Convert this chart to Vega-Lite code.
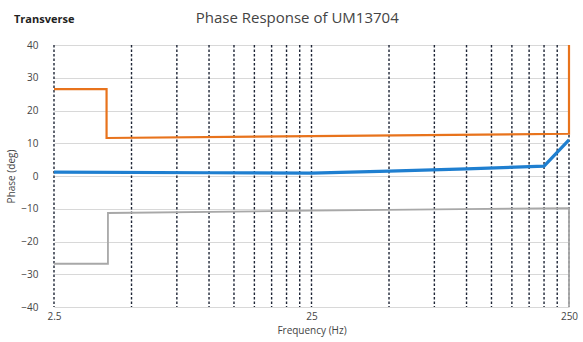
{
  "$schema": "https://vega.github.io/schema/vega-lite/v6.json",
  "width": 515,
  "height": 262,
  "autosize": {"type": "none"},
  "padding": {"left": 54, "top": 45, "right": 14, "bottom": 35},
  "background": "white",
  "config": {
    "view": {"stroke": null},
    "font": "Open Sans",
    "axisY": {
      "values": [-40, -30, -20, -10, 0, 10, 20, 30, 40],
      "grid": true,
      "gridColor": "#d8d8d8",
      "gridWidth": 1,
      "domain": false,
      "ticks": false,
      "labelOverlap": false,
      "labelFontSize": 10,
      "labelColor": "#444444",
      "labelPadding": 16,
      "titleFontSize": 10,
      "titleFontWeight": "normal",
      "titleColor": "#444444",
      "titlePadding": 4
    }
  },
  "datasets": {
    "grid": [
      {"f": 2.5}, {"f": 5}, {"f": 7.5}, {"f": 10}, {"f": 12.5}, {"f": 15}, {"f": 17.5}, {"f": 20}, {"f": 22.5}, {"f": 25},
      {"f": 50}, {"f": 75}, {"f": 100}, {"f": 125}, {"f": 150}, {"f": 175}, {"f": 200}, {"f": 225}, {"f": 250}
    ],
    "series": [
      {"series": "upper", "o": 1, "f": 2.5, "phase": 26.5},
      {"series": "upper", "o": 2, "f": 4, "phase": 26.5},
      {"series": "upper", "o": 3, "f": 4, "phase": 11.6},
      {"series": "upper", "o": 4, "f": 25, "phase": 12.2},
      {"series": "upper", "o": 5, "f": 250, "phase": 12.9},
      {"series": "upper", "o": 6, "f": 250, "phase": 40},
      {"series": "lower", "o": 1, "f": 2.5, "phase": -26.8},
      {"series": "lower", "o": 2, "f": 4.05, "phase": -26.8},
      {"series": "lower", "o": 3, "f": 4.05, "phase": -11.3},
      {"series": "lower", "o": 4, "f": 25, "phase": -10.6},
      {"series": "lower", "o": 5, "f": 250, "phase": -9.8},
      {"series": "lower", "o": 6, "f": 250, "phase": -40},
      {"series": "phase", "o": 1, "f": 2.5, "phase": 1.2},
      {"series": "phase", "o": 2, "f": 10, "phase": 1.0},
      {"series": "phase", "o": 3, "f": 25, "phase": 0.9},
      {"series": "phase", "o": 4, "f": 50, "phase": 1.5},
      {"series": "phase", "o": 5, "f": 100, "phase": 2.2},
      {"series": "phase", "o": 6, "f": 200, "phase": 3.0},
      {"series": "phase", "o": 7, "f": 250, "phase": 11}
    ],
    "labels": [
      {"t": "Transverse", "kind": "side", "f": 2.5, "phase": 40},
      {"t": "Phase Response of UM13704", "kind": "title", "f": 22, "phase": 40}
    ]
  },
  "layer": [
    {
      "data": {"name": "grid"},
      "mark": {"type": "rule", "color": "#1e2536", "strokeWidth": 1.4, "strokeDash": [2.5, 2]},
      "encoding": {
        "x": {
          "field": "f",
          "type": "quantitative",
          "scale": {"type": "log", "domain": [2.5, 250], "nice": false},
          "axis": {
            "values": [2.5, 25, 250],
            "grid": false,
            "domain": false,
            "ticks": false,
            "labelFontSize": 10,
            "labelColor": "#444444",
            "labelPadding": 4,
            "labelFlush": false,
            "labelExpr": "datum.value == 2.5 ? '2.5' : format(datum.value, 'd')",
            "title": "Frequency (Hz)",
            "titleFontSize": 10,
            "titleFontWeight": "normal",
            "titleColor": "#444444",
            "titlePadding": 4
          }
        }
      }
    },
    {
      "data": {"name": "series"},
      "transform": [{"filter": "datum.series == 'lower'"}],
      "mark": {"type": "line", "color": "#a8a8a8", "strokeWidth": 1.8},
      "encoding": {
        "x": {"field": "f", "type": "quantitative", "scale": {"type": "log", "domain": [2.5, 250], "nice": false}},
        "y": {"field": "phase", "type": "quantitative", "scale": {"domain": [-40, 40], "nice": false}, "title": "Phase (deg)"},
        "order": {"field": "o", "type": "quantitative"}
      }
    },
    {
      "data": {"name": "series"},
      "transform": [{"filter": "datum.series == 'upper'"}],
      "mark": {"type": "line", "color": "#e8731c", "strokeWidth": 2.2},
      "encoding": {
        "x": {"field": "f", "type": "quantitative", "scale": {"type": "log", "domain": [2.5, 250], "nice": false}},
        "y": {"field": "phase", "type": "quantitative", "scale": {"domain": [-40, 40], "nice": false}, "title": "Phase (deg)"},
        "order": {"field": "o", "type": "quantitative"}
      }
    },
    {
      "data": {"name": "series"},
      "transform": [{"filter": "datum.series == 'phase'"}],
      "mark": {"type": "line", "color": "#1f7fd0", "strokeWidth": 3.2},
      "encoding": {
        "x": {"field": "f", "type": "quantitative", "scale": {"type": "log", "domain": [2.5, 250], "nice": false}},
        "y": {"field": "phase", "type": "quantitative", "scale": {"domain": [-40, 40], "nice": false}, "title": "Phase (deg)"},
        "order": {"field": "o", "type": "quantitative"}
      }
    },
    {
      "data": {"name": "labels"},
      "transform": [{"filter": "datum.kind == 'side'"}],
      "mark": {"type": "text", "align": "left", "baseline": "alphabetic", "dx": -40, "dy": -22, "fontSize": 11, "fontWeight": "bold", "color": "#222222", "font": "Open Sans"},
      "encoding": {
        "x": {"field": "f", "type": "quantitative", "scale": {"type": "log", "domain": [2.5, 250], "nice": false}},
        "y": {"field": "phase", "type": "quantitative", "scale": {"domain": [-40, 40], "nice": false}, "title": "Phase (deg)"},
        "text": {"field": "t"}
      }
    },
    {
      "data": {"name": "labels"},
      "transform": [{"filter": "datum.kind == 'title'"}],
      "mark": {"type": "text", "align": "center", "baseline": "alphabetic", "dy": -22, "fontSize": 15, "fontWeight": "normal", "color": "#444444", "font": "Open Sans"},
      "encoding": {
        "x": {"field": "f", "type": "quantitative", "scale": {"type": "log", "domain": [2.5, 250], "nice": false}},
        "y": {"field": "phase", "type": "quantitative", "scale": {"domain": [-40, 40], "nice": false}, "title": "Phase (deg)"},
        "text": {"field": "t"}
      }
    }
  ]
}
